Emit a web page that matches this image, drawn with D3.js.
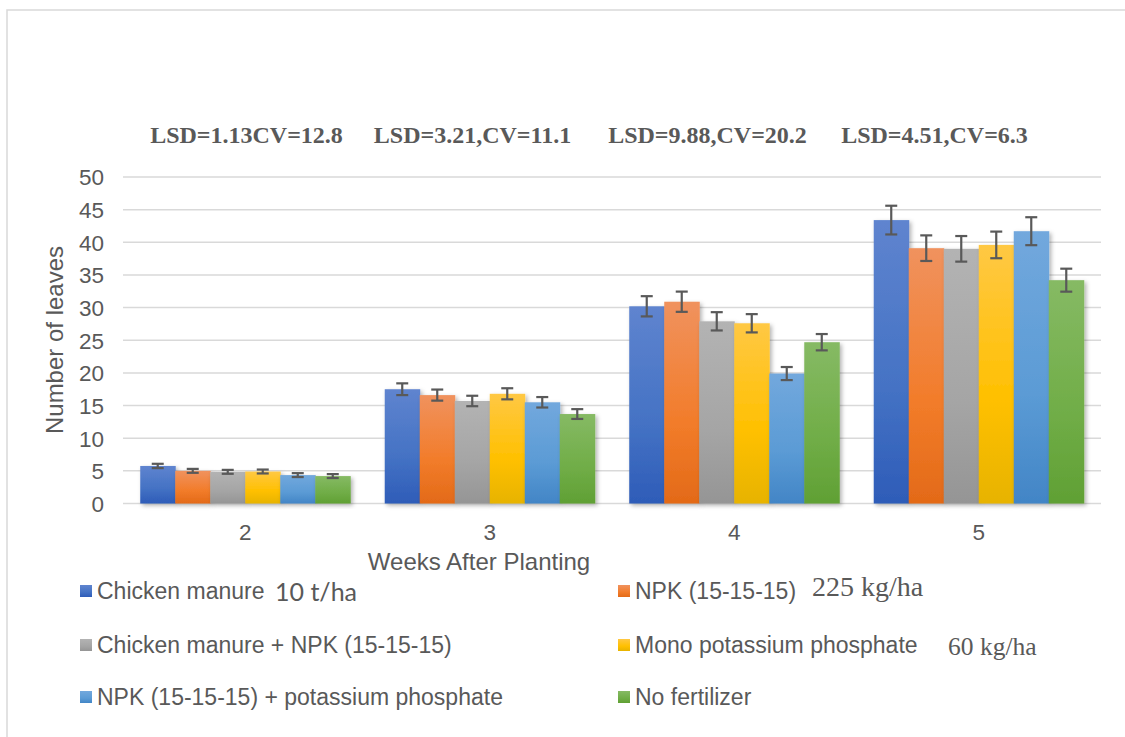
<!DOCTYPE html>
<html>
<head>
<meta charset="utf-8">
<script src="https://cdn.jsdelivr.net/npm/d3@7"></script>
<style>
  html, body { margin: 0; padding: 0; background: #fff; }
  svg { display: block; }
</style>
</head>
<body>
<svg id="chart" width="1125" height="737"></svg>
<script>
// ---------- DATA ----------
const categories = ["2", "3", "4", "5"];
const seriesNames = [
  "Chicken manure",
  "NPK (15-15-15)",
  "Chicken manure + NPK (15-15-15)",
  "Mono potassium phosphate",
  "NPK (15-15-15) + potassium phosphate",
  "No fertilizer"
];
const chickenManure   = [5.75, 17.5, 30.2, 43.4];
const npk             = [5.0, 16.6, 30.9, 39.1];
const chickenNpk      = [4.85, 15.7, 27.9, 39.0];
const monoPotassium   = [4.9, 16.8, 27.6, 39.6];
const npkPotassium    = [4.35, 15.5, 19.9, 41.7];
const noFertilizer    = [4.2, 13.7, 24.7, 34.2];
const errChickenManure = [0.33, 0.9, 1.55, 2.2];
const errNpk           = [0.3, 0.85, 1.55, 1.96];
const errChickenNpk    = [0.3, 0.8, 1.4, 1.96];
const errMonoPotassium = [0.3, 0.85, 1.4, 2.04];
const errNpkPotassium  = [0.3, 0.8, 1.0, 2.14];
const errNoFertilizer  = [0.3, 0.75, 1.25, 1.76];
const yTicks = [0, 5, 10, 15, 20, 25, 30, 35, 40, 45, 50];
const lsdLabels = ["LSD=1.13CV=12.8", "LSD=3.21,CV=11.1", "LSD=9.88,CV=20.2", "LSD=4.51,CV=6.3"];
const legendExtras = ["10 t/ha", "225 kg/ha", "", "60 kg/ha", "", ""];
const xTitle = "Weeks After Planting";
const yTitle = "Number of leaves";

const values = [chickenManure, npk, chickenNpk, monoPotassium, npkPotassium, noFertilizer];
const errors = [errChickenManure, errNpk, errChickenNpk, errMonoPotassium, errNpkPotassium, errNoFertilizer];
// gradient colours: [top, mid, bottom]
const colors = [
  ["#5f84cf", "#4472c4", "#2e5cb8"],
  ["#f0925e", "#f27c2a", "#e36a18"],
  ["#b3b3b3", "#a5a5a5", "#959595"],
  ["#ffc844", "#ffc000", "#e7b300"],
  ["#72a8dd", "#5b9bd5", "#4285c6"],
  ["#86ba64", "#70ad47", "#60a034"]
];

// ---------- LAYOUT ----------
const svg = d3.select("#chart");
const plot = { left: 123, right: 1101, top: 177, bottom: 503.5 };
const grey = "#595959";
const sans = "'Liberation Sans', Arial, sans-serif";
const serif = "'Liberation Serif', 'Times New Roman', serif";

// outer border
svg.append("rect")
  .attr("x", 7).attr("y", 10).attr("width", 1140).attr("height", 760)
  .attr("fill", "none").attr("stroke", "#d9d9d9").attr("stroke-width", 1.5);

const defs = svg.append("defs");
colors.forEach((c, i) => {
  const g = defs.append("linearGradient").attr("id", "grad" + i)
    .attr("x1", 0).attr("y1", 0).attr("x2", 0).attr("y2", 1);
  g.append("stop").attr("offset", "0%").attr("stop-color", c[0]);
  g.append("stop").attr("offset", "60%").attr("stop-color", c[1]);
  g.append("stop").attr("offset", "100%").attr("stop-color", c[2]);
});
const sh = defs.append("filter").attr("id", "shadow")
  .attr("x", "-20%").attr("y", "-10%").attr("width", "150%").attr("height", "130%");
sh.append("feDropShadow").attr("dx", 2).attr("dy", 2).attr("stdDeviation", 2)
  .attr("flood-color", "#000").attr("flood-opacity", 0.3);

const y = d3.scaleLinear().domain([0, 50]).range([plot.bottom, plot.top]);
const x0 = d3.scaleBand().domain(categories).range([plot.left, plot.right])
  .paddingInner(0.141).paddingOuter(0.0705);
const x1 = d3.scaleBand().domain(d3.range(seriesNames.length)).range([0, x0.bandwidth()]);

// gridlines
svg.append("g").selectAll("line").data(yTicks).join("line")
  .attr("x1", plot.left).attr("x2", plot.right)
  .attr("y1", d => y(d)).attr("y2", d => y(d))
  .attr("stroke", "#d9d9d9").attr("stroke-width", 1.5);

// y axis tick labels
const yAxis = d3.axisLeft(y).tickValues(yTicks).tickSize(0).tickPadding(0);
const yg = svg.append("g").attr("transform", `translate(104,0)`).call(yAxis);
yg.select(".domain").remove();
yg.selectAll("text").attr("fill", grey).attr("font-family", sans).attr("font-size", 22.5)
  .attr("dy", "0.35em");

// x axis tick labels
const xAxis = d3.axisBottom(x0).tickSize(0).tickPadding(0);
const xg = svg.append("g").attr("transform", `translate(0,524)`).call(xAxis);
xg.select(".domain").remove();
xg.selectAll("text").attr("fill", grey).attr("font-family", sans).attr("font-size", 22.5)
  .attr("dy", "0.71em");

// bars
const groups = svg.append("g").selectAll("g").data(categories).join("g")
  .attr("transform", d => `translate(${x0(d)},0)`);
groups.each(function(cat, ci) {
  const g = d3.select(this);
  seriesNames.forEach((s, si) => {
    const v = values[si][ci];
    g.append("rect")
      .attr("x", x1(si)).attr("width", x1.bandwidth() + 0.5)
      .attr("y", y(v)).attr("height", y(0) - y(v))
      .attr("fill", `url(#grad${si})`)
      .attr("filter", "url(#shadow)");
  });
});
// error bars (drawn on top)
groups.each(function(cat, ci) {
  const g = d3.select(this);
  seriesNames.forEach((s, si) => {
    const v = values[si][ci], e = errors[si][ci];
    const cx = x1(si) + x1.bandwidth() / 2;
    const eg = g.append("g").attr("stroke", grey).attr("stroke-width", 2.2);
    eg.append("line").attr("x1", cx).attr("x2", cx).attr("y1", y(v + e)).attr("y2", y(v - e));
    eg.append("line").attr("x1", cx - 6).attr("x2", cx + 6).attr("y1", y(v + e)).attr("y2", y(v + e));
    eg.append("line").attr("x1", cx - 6).attr("x2", cx + 6).attr("y1", y(v - e)).attr("y2", y(v - e));
  });
});

// LSD annotations
const lsdX = [246.5, 472.5, 707.5, 934.5];
svg.append("g").selectAll("text").data(lsdLabels).join("text")
  .attr("x", (d, i) => lsdX[i]).attr("y", 143)
  .attr("text-anchor", "middle")
  .attr("font-family", serif).attr("font-weight", "bold").attr("font-size", 24)
  .attr("fill", grey)
  .text(d => d);

// axis titles
svg.append("text").attr("x", 479).attr("y", 570).attr("text-anchor", "middle")
  .attr("font-family", sans).attr("font-size", 24).attr("fill", grey).text(xTitle);
svg.append("text").attr("transform", "translate(63,340) rotate(-90)").attr("text-anchor", "middle")
  .attr("font-family", sans).attr("font-size", 24).attr("fill", grey).text(yTitle);

// legend
const legendX = [80, 618];
const legendY = [591, 645, 697];
const extraX = [275, 812, 0, 948, 0, 0];
const extraFont = ["Lato, 'Open Sans', sans-serif", serif, "", serif, "", ""];
const extraSize = [25, 28, 0, 25.5, 0, 0];
const extraDy = [2, -3, 0, 2, 0, 0];
seriesNames.forEach((s, i) => {
  const col = i % 2, row = Math.floor(i / 2);
  const lx = legendX[col], ly = legendY[row];
  svg.append("rect").attr("x", lx).attr("y", ly - 6).attr("width", 12).attr("height", 12)
    .attr("fill", `url(#grad${i})`);
  svg.append("text").attr("x", lx + 17).attr("y", ly + 8)
    .attr("font-family", sans).attr("font-size", 23).attr("fill", grey).text(s);
  if (legendExtras[i]) {
    svg.append("text").attr("x", extraX[i]).attr("y", ly + 8 + extraDy[i])
      .attr("font-family", extraFont[i]).attr("font-size", extraSize[i]).attr("fill", grey)
      .text(legendExtras[i]);
  }
});
</script>
</body>
</html>
